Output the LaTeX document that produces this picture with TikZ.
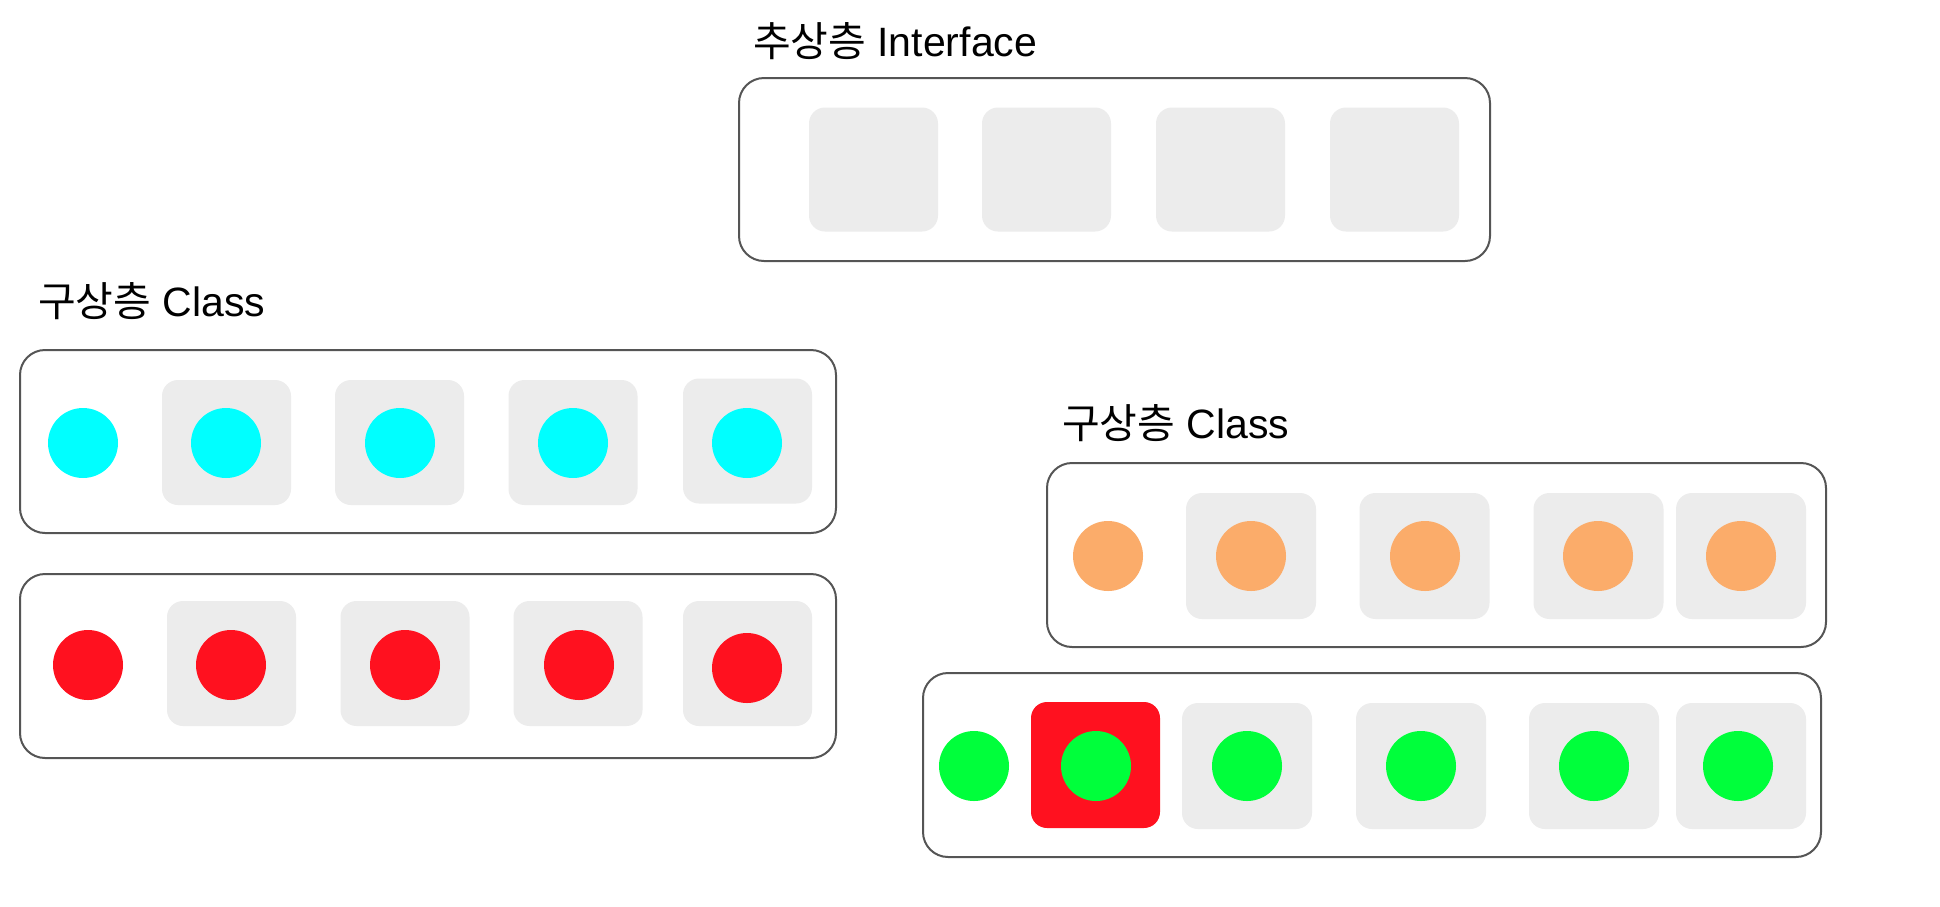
\documentclass[tikz,border=0pt]{standalone}
\usepackage{fontspec}
\setmainfont{Liberation Sans}
\newfontfamily\cjk{Noto Sans CJK KR}
\definecolor{boxline}{HTML}{555555}
\definecolor{slotgray}{HTML}{ECECEC}
\definecolor{dotcyan}{HTML}{00FFFF}
\definecolor{dotred}{HTML}{FF111F}
\definecolor{dotgreen}{HTML}{00FF3B}
\definecolor{dotorange}{HTML}{FBAC6A}
\tikzset{
  outerbox/.style={draw=boxline, line width=2pt, rounded corners=25pt, fill=white, inner sep=0pt, outer sep=0pt},
  slotbox/.style={fill=slotgray, rounded corners=16pt, inner sep=0pt, outer sep=0pt, minimum width=129pt, minimum height=125pt},
  hotbox/.style={slotbox, fill=dotred},
  dotnode/.style={circle, inner sep=0pt, outer sep=0pt, minimum size=70pt},
  lbl/.style={anchor=base west, inner sep=0pt, outer sep=0pt, font=\fontsize{41}{49}\selectfont}
}
\begin{document}
\begin{tikzpicture}[x=1pt,y=-1pt]
\useasboundingbox (0,0) rectangle (1940,906);
% labels
\node[lbl] (tI) at (753,56.7) {{\cjk 추상층} Interface};
\node[lbl] (tL) at (38,316) {{\cjk 구상층} Class};
\node[lbl] (tR) at (1062,438) {{\cjk 구상층} Class};
% interface box
\node[outerbox, minimum width=751pt, minimum height=183pt] (bI) at (1114.5,169.5) {};
\node[slotbox, minimum height=124pt] (i1) at (873.5,169.5) {};
\node[slotbox, minimum height=124pt] (i2) at (1046.5,169.5) {};
\node[slotbox, minimum height=124pt] (i3) at (1220.5,169.5) {};
\node[slotbox, minimum height=124pt] (i4) at (1394.5,169.5) {};
% cyan box
\node[outerbox, minimum width=816pt, minimum height=183pt] (bC) at (428,441.5) {};
\node[slotbox] (c1) at (226.5,442.5) {};
\node[slotbox] (c2) at (399.5,442.5) {};
\node[slotbox] (c3) at (573,442.5) {};
\node[slotbox] (c4) at (747.5,441) {};
\node[dotnode, fill=dotcyan] (cd0) at (83,443) {};
\node[dotnode, fill=dotcyan] (cd1) at (226,443) {};
\node[dotnode, fill=dotcyan] (cd2) at (400,443) {};
\node[dotnode, fill=dotcyan] (cd3) at (573,443) {};
\node[dotnode, fill=dotcyan] (cd4) at (747,443) {};
% red box
\node[outerbox, minimum width=816pt, minimum height=184pt] (bR) at (428,666) {};
\node[slotbox] (r1) at (231.5,663.5) {};
\node[slotbox] (r2) at (405,663.5) {};
\node[slotbox] (r3) at (578,663.5) {};
\node[slotbox] (r4) at (747.5,663.5) {};
\node[dotnode, fill=dotred] (rd0) at (88,665) {};
\node[dotnode, fill=dotred] (rd1) at (231,665) {};
\node[dotnode, fill=dotred] (rd2) at (405,665) {};
\node[dotnode, fill=dotred] (rd3) at (579,665) {};
\node[dotnode, fill=dotred] (rd4) at (747,668) {};
% orange box
\node[outerbox, minimum width=779pt, minimum height=184pt] (bO) at (1436.5,555) {};
\node[slotbox, minimum width=130pt, minimum height=126pt] (o1) at (1251,556) {};
\node[slotbox, minimum width=130pt, minimum height=126pt] (o2) at (1424.5,556) {};
\node[slotbox, minimum width=130pt, minimum height=126pt] (o3) at (1598.5,556) {};
\node[slotbox, minimum width=130pt, minimum height=126pt] (o4) at (1741,556) {};
\node[dotnode, fill=dotorange] (od0) at (1108,556) {};
\node[dotnode, fill=dotorange] (od1) at (1251,556) {};
\node[dotnode, fill=dotorange] (od2) at (1425,556) {};
\node[dotnode, fill=dotorange] (od3) at (1598,556) {};
\node[dotnode, fill=dotorange] (od4) at (1741,556) {};
% green box
\node[outerbox, minimum width=898pt, minimum height=184pt] (bG) at (1372,765) {};
\node[hotbox, minimum height=126pt] (g0) at (1095.5,765) {};
\node[slotbox, minimum width=130pt, minimum height=126pt] (g1) at (1247,766) {};
\node[slotbox, minimum width=130pt, minimum height=126pt] (g2) at (1421,766) {};
\node[slotbox, minimum width=130pt, minimum height=126pt] (g3) at (1594,766) {};
\node[slotbox, minimum width=130pt, minimum height=126pt] (g4) at (1741,766) {};
\node[dotnode, fill=dotgreen] (gd0) at (974,766) {};
\node[dotnode, fill=dotgreen] (gd1) at (1096,766) {};
\node[dotnode, fill=dotgreen] (gd2) at (1247,766) {};
\node[dotnode, fill=dotgreen] (gd3) at (1421,766) {};
\node[dotnode, fill=dotgreen] (gd4) at (1594,766) {};
\node[dotnode, fill=dotgreen] (gd5) at (1738,766) {};
\end{tikzpicture}
\end{document}
